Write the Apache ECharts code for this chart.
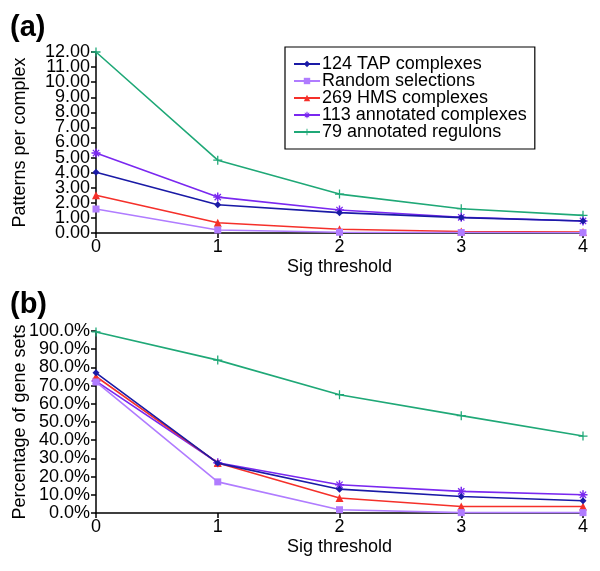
<!DOCTYPE html>
<html><head><meta charset="utf-8">
<script src="https://cdn.jsdelivr.net/npm/echarts@6/dist/echarts.min.js"></script>
<style>html,body{margin:0;padding:0;background:#fff}#c{width:600px;height:571px}</style>
</head><body><div id="c"></div>
<script>
const thresholds = [0, 1, 2, 3, 4];
const seriesNames = ['124 TAP complexes', 'Random selections', '269 HMS complexes', '113 annotated complexes', '79 annotated regulons'];
// (a) Patterns per complex
const tapA = [4.03, 1.87, 1.35, 1.02, 0.80];
const randA = [1.59, 0.20, 0.05, 0.03, 0.02];
const hmsA = [2.50, 0.68, 0.25, 0.10, 0.07];
const annA = [5.30, 2.38, 1.52, 1.04, 0.80];
const regA = [12.00, 4.83, 2.58, 1.61, 1.17];
// (b) Percentage of gene sets
const tapB = [77.0, 27.4, 13.1, 9.1, 6.7];
const randB = [72.0, 17.1, 1.8, 0.2, 0.2];
const hmsB = [75.0, 27.5, 8.2, 3.6, 3.6];
const annB = [72.5, 27.6, 15.5, 11.9, 10.0];
const regB = [99.5, 84.0, 65.0, 53.5, 42.3];
// y tick values
const yTicksA = [0, 1, 2, 3, 4, 5, 6, 7, 8, 9, 10, 11, 12];
const yTicksB = [0, 10, 20, 30, 40, 50, 60, 70, 80, 90, 100];

const colors = ['#1a1aa6', '#b07cff', '#f5302a', '#7a28f0', '#1fa877'];
const plusPath = 'path://M4.3,0 L5.7,0 L5.7,4.3 L10,4.3 L10,5.7 L5.7,5.7 L5.7,10 L4.3,10 L4.3,5.7 L0,5.7 L0,4.3 L4.3,4.3 Z';
const starPath = 'path://M4.2,0 L5.8,0 L5.8,4.2 L10,4.2 L10,5.8 L5.8,5.8 L5.8,10 L4.2,10 L4.2,5.8 L0,5.8 L0,4.2 L4.2,4.2 Z M1,2 L2,1 L9,8 L8,9 Z M8,1 L9,2 L2,9 L1,8 Z';
const symbols = ['diamond', 'rect', 'triangle', starPath, plusPath];
const sizes = [7, 7, 8, 9, 9];

const font = 'Liberation Sans, Arial, Helvetica, sans-serif';
const FS = 18;
const dataA = [tapA, randA, hmsA, annA, regA];
const dataB = [tapB, randB, hmsB, annB, regB];

function mk(data, idx) {
  return data.map((arr, i) => ({
    name: seriesNames[i], type: 'line', xAxisIndex: idx, yAxisIndex: idx * 2,
    data: thresholds.map((t, j) => [t, arr[j]]),
    symbol: symbols[i], symbolSize: sizes[i], showSymbol: true,
    lineStyle: { color: colors[i], width: 1.6 },
    itemStyle: { color: colors[i] },
    animation: false, z: 10 - i
  }));
}
const axisCommonX = (idx) => ({
  type: 'value', gridIndex: idx, min: thresholds[0], max: thresholds[thresholds.length - 1], interval: 1,
  name: 'Sig threshold', nameLocation: 'middle', nameGap: 25, nameMoveOverlap: false,
  nameTextStyle: { fontSize: FS, color: '#000', fontFamily: font },
  axisLine: { lineStyle: { color: '#000', width: 1.5 } },
  axisTick: { show: true, inside: false, length: 5, lineStyle: { color: '#000', width: 1.5 } },
  axisLabel: { fontSize: FS, color: '#000', fontFamily: font, margin: 5, showMinLabel: true, showMaxLabel: true, hideOverlap: false },
  splitLine: { show: false }
});
// Two axes per grid sharing one scale: labels split into even/odd positions so none get auto-hidden
const axisY = (idx, ticks, name, fmt, part) => {
  const main = part === 0;
  return {
    type: 'value', gridIndex: idx, position: 'left', offset: 0,
    min: ticks[0], max: ticks[ticks.length - 1], interval: ticks[1] - ticks[0],
    name: main ? name : '', nameLocation: 'middle', nameGap: 67, nameMoveOverlap: false,
    nameTextStyle: { fontSize: FS, color: '#000', fontFamily: font },
    axisLine: { show: main, onZero: false, lineStyle: { color: '#000', width: 1.5 } },
    axisTick: { show: main, length: 5, customValues: ticks, lineStyle: { color: '#000', width: 1.5 } },
    axisLabel: {
      margin: 6, showMinLabel: true, showMaxLabel: true, hideOverlap: false,
      customValues: ticks.filter((v, k) => k % 2 === part),
      formatter: v => fmt(v), fontSize: FS, color: '#000', fontFamily: font
    },
    splitLine: { show: false }
  };
};

const chart = echarts.init(document.getElementById('c'), null, { renderer: 'canvas' });
chart.setOption({
  animation: false,
  backgroundColor: '#fff',
  title: [
    { text: '(a)', left: 5, top: 8, textStyle: { fontSize: 29, fontWeight: 'bold', color: '#000', fontFamily: font } },
    { text: '(b)', left: 5, top: 285, textStyle: { fontSize: 29, fontWeight: 'bold', color: '#000', fontFamily: font } }
  ],
  legend: {
    data: seriesNames, orient: 'vertical', left: 285, top: 47,
    backgroundColor: '#fff', borderColor: '#000', borderWidth: 1.2,
    padding: [8, 8, 8, 8], itemGap: -1, itemWidth: 26, itemHeight: 8,
    textStyle: { fontSize: FS, lineHeight: 17, color: '#000', fontFamily: font, padding: [0, 0, 0, -3] }
  },
  grid: [
    { left: 96, right: 17, top: 52, height: 181, outerBoundsMode: 'none', containLabel: false },
    { left: 96, right: 17, top: 331, height: 182, outerBoundsMode: 'none', containLabel: false }
  ],
  xAxis: [axisCommonX(0), axisCommonX(1)],
  yAxis: [
    axisY(0, yTicksA, 'Patterns per complex', v => v.toFixed(2), 0),
    axisY(0, yTicksA, 'Patterns per complex', v => v.toFixed(2), 1),
    axisY(1, yTicksB, 'Percentage of gene sets', v => v.toFixed(1) + '%', 0),
    axisY(1, yTicksB, 'Percentage of gene sets', v => v.toFixed(1) + '%', 1)
  ],
  series: [...mk(dataA, 0), ...mk(dataB, 1)]
});
</script></body></html>
